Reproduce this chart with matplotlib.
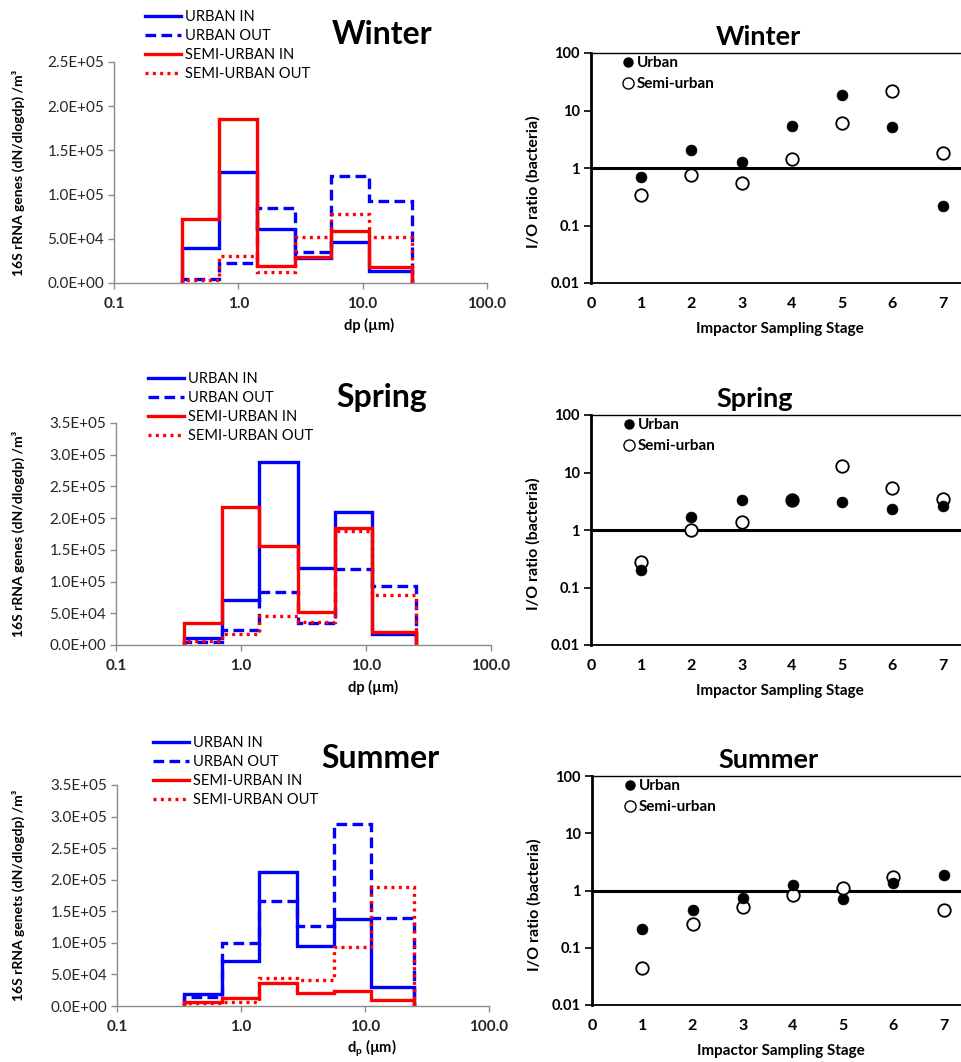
import matplotlib
matplotlib.use("Agg")
import matplotlib.pyplot as plt
from matplotlib.lines import Line2D
from matplotlib.ticker import FuncFormatter, FixedLocator, NullLocator

plt.rcParams['font.family'] = ['Lato', 'DejaVu Sans']
plt.rcParams['mathtext.fontset'] = 'custom'
plt.rcParams['mathtext.rm'] = 'Lato'

# ---------------- data ----------------
seasons = ["Winter", "Spring", "Summer"]
edges = [0.35, 0.70, 1.40, 2.85, 5.6, 11.2, 25.0]   # particle size bin edges (µm)

series_labels = ["URBAN IN", "URBAN OUT", "SEMI-URBAN IN", "SEMI-URBAN OUT"]

winter_urban_in = [40000, 126000, 61000, 28000, 46000, 14000]
winter_urban_out = [4000, 22500, 84600, 35000, 121000, 93000]
winter_semi_in = [72500, 186000, 19000, 29000, 59000, 17700]
winter_semi_out = [3000, 30000, 13000, 51500, 78000, 51500]

spring_urban_in = [10500, 71000, 288000, 122000, 210000, 18000]
spring_urban_out = [4000, 24000, 84000, 34000, 120000, 93000]
spring_semi_in = [35000, 218000, 156000, 52000, 184000, 21000]
spring_semi_out = [6000, 17000, 45000, 37000, 180000, 79000]

summer_urban_in = [18500, 72000, 213000, 95000, 137000, 30000]
summer_urban_out = [14000, 99000, 166000, 127000, 289000, 140000]
summer_semi_in = [7000, 12000, 36500, 21000, 24000, 9000]
summer_semi_out = [4000, 7000, 44000, 41000, 93000, 189000]

stages = [1, 2, 3, 4, 5, 6, 7]
winter_io_urban = [0.71, 2.05, 1.27, 5.45, 18.4, 5.2, 0.22]
winter_io_semi = [0.34, 0.755, 0.556, 1.41, 6.1, 21.8, 1.82]
spring_io_urban = [0.20, 1.71, 3.3, 3.3, 3.03, 2.35, 2.65]
spring_io_semi = [0.274, 1.0, 1.40, 3.3, 12.8, 5.4, 3.4]
summer_io_urban = [0.215, 0.46, 0.735, 1.27, 0.716, 1.36, 1.87]
summer_io_semi = [0.0446, 0.256, 0.51, 0.84, 1.10, 1.71, 0.46]

size_ymax = [2.5e5, 3.5e5, 3.5e5]
ylabels_left = ["16S rRNA genes (dN/dlogdp) /m\u00b3",
                "16S rRNA genes (dN/dlogdp) /m\u00b3",
                "16S rRNA genets (dN/dlogdp) /m\u00b3"]
xlabels_left = ["dp (\u00b5m)", "dp (\u00b5m)", "d$_\\mathregular{p}$ (\u00b5m)"]

size_data = [
    [winter_urban_in, winter_urban_out, winter_semi_in, winter_semi_out],
    [spring_urban_in, spring_urban_out, spring_semi_in, spring_semi_out],
    [summer_urban_in, summer_urban_out, summer_semi_in, summer_semi_out],
]
io_data = [
    (winter_io_urban, winter_io_semi),
    (spring_io_urban, spring_io_semi),
    (summer_io_urban, summer_io_semi),
]

# ---------------- layout ----------------
W, H = 962, 1062
fig = plt.figure(figsize=(W / 100, H / 100), dpi=100)


def pos(x0, y0, x1, y1):
    return [x0 / W, 1 - y1 / H, (x1 - x0) / W, (y1 - y0) / H]


left_boxes = [(114, 62, 487, 283), (116, 423, 491, 645), (117, 785, 489, 1006)]
right_boxes = [(591, 53, 993, 283), (591, 415, 993, 645), (592, 776, 994, 1005)]
left_titles = [(382, 35), (382, 398), (380, 758)]
right_titles = [(758, 37), (755, 399), (768, 760)]
left_leg = [(145, 10), (148, 372), (153, 736)]
right_leg = [(622, 56), (623, 418), (624, 779)]

styles = [
    dict(color="#0000ff", linestyle="-"),
    dict(color="#0000ff", linestyle=(0, (3.2, 1.6))),
    dict(color="#ff0000", linestyle="-"),
    dict(color="#ff0000", linestyle=(0, (0.9, 1.3))),
]
LW = 2.4
grey = "#8c8c8c"

for i in range(3):
    # ---------- size distribution ----------
    ax = fig.add_axes(pos(*left_boxes[i]))
    for vals, st in zip(size_data[i], styles):
        ax.stairs(vals, edges, baseline=0, fill=False, linewidth=LW, **st)
    ax.set_xscale("log")
    ax.set_xlim(0.1, 100)
    ax.set_ylim(0, size_ymax[i])
    ax.xaxis.set_major_locator(FixedLocator([0.1, 1, 10, 100]))
    ax.xaxis.set_minor_locator(NullLocator())
    ax.xaxis.set_major_formatter(FuncFormatter(lambda v, p: f"{v:.1f}"))
    ax.yaxis.set_major_locator(FixedLocator([k * 5e4 for k in range(int(size_ymax[i] / 5e4) + 1)]))
    ax.yaxis.set_major_formatter(FuncFormatter(lambda v, p: f"{v:.1E}"))
    for s in ["top", "right"]:
        ax.spines[s].set_visible(False)
    for s in ["left", "bottom"]:
        ax.spines[s].set_color(grey)
        ax.spines[s].set_linewidth(1.0)
    ax.tick_params(axis="both", direction="out", length=4, width=1.0, color=grey,
                   labelcolor="#262626")
    ax.tick_params(axis="y", labelsize=11, pad=3)
    ax.tick_params(axis="x", labelsize=11, pad=6)
    for t in ax.get_xticklabels():
        t.set_fontweight("bold")
    ax.set_ylabel(ylabels_left[i], fontsize=10, fontweight="bold", va="center")
    ax.yaxis.set_label_coords((18 - left_boxes[i][0]) / (left_boxes[i][2] - left_boxes[i][0]), 0.5)
    ax.set_xlabel(xlabels_left[i], fontsize=10.5, fontweight="bold", va="center")
    ax.xaxis.set_label_coords(0.685, -0.19)

    handles = [Line2D([], [], linewidth=LW, **st) for st in styles]
    lx, ly = left_leg[i]
    ax.legend(handles, series_labels, loc="upper left",
              bbox_to_anchor=(lx / W, 1 - ly / H), bbox_transform=fig.transFigure,
              frameon=False, fontsize=10.5, handlelength=2.5, handletextpad=0.25,
              labelspacing=0.34, borderpad=0, borderaxespad=0)

    tx, ty = left_titles[i]
    fig.text(tx / W, 1 - ty / H, seasons[i], fontsize=23, fontweight="bold",
             ha="center", va="center")

    # ---------- I/O ratio ----------
    ax2 = fig.add_axes(pos(*right_boxes[i]))
    urb, semi = io_data[i]
    ax2.axhline(1, color="black", linewidth=2.2, zorder=1)
    ax2.plot(stages, semi, linestyle="none", marker="o", markersize=9.0,
             markerfacecolor="white", markeredgecolor="black", markeredgewidth=1.3,
             label="Semi-urban", zorder=3)
    ax2.plot(stages, urb, linestyle="none", marker="o", markersize=7.8,
             markerfacecolor="black", markeredgecolor="black", markeredgewidth=0.5,
             label="Urban", zorder=4)
    ax2.set_yscale("log")
    ax2.set_ylim(0.01, 100)
    ax2.set_xlim(0, 8)
    ax2.yaxis.set_major_locator(FixedLocator([0.01, 0.1, 1, 10, 100]))
    ax2.yaxis.set_minor_locator(NullLocator())
    ax2.yaxis.set_major_formatter(FuncFormatter(lambda v, p: f"{v:g}"))
    ax2.xaxis.set_major_locator(FixedLocator([0, 1, 2, 3, 4, 5, 6, 7]))
    ax2.spines["left"].set_linewidth(2.0)
    ax2.spines["bottom"].set_linewidth(1.3)
    ax2.spines["top"].set_linewidth(1.0)
    ax2.spines["right"].set_visible(False)
    ax2.tick_params(axis="y", direction="out", length=5, width=1.2, labelsize=10.5, pad=3)
    ax2.tick_params(axis="x", direction="out", length=0, labelsize=11.5, pad=10)
    for t in ax2.get_yticklabels() + ax2.get_xticklabels():
        t.set_fontweight("bold")
    ax2.set_ylabel("I/O ratio (bacteria)", fontsize=11.5, fontweight="bold", va="center")
    ax2.yaxis.set_label_coords(-0.144, 0.44)
    ax2.set_xlabel("Impactor Sampling Stage", fontsize=11, fontweight="bold", va="center")
    ax2.xaxis.set_label_coords(0.47, -0.20)

    rx, ry = right_leg[i]
    leg_handles = [Line2D([], [], linestyle="none", marker="o", markersize=6.5,
                          markerfacecolor="black", markeredgecolor="black"),
                   Line2D([], [], linestyle="none", marker="o", markersize=8,
                          markerfacecolor="white", markeredgecolor="black",
                          markeredgewidth=1.0)]
    ax2.legend(leg_handles, ["Urban", "Semi-urban"], loc="upper left",
               bbox_to_anchor=(rx / W, 1 - ry / H), bbox_transform=fig.transFigure,
               frameon=False, prop=dict(size=11, weight="bold"), handlelength=0.8,
               handletextpad=0.15, labelspacing=0.45, borderpad=0, borderaxespad=0)

    tx, ty = right_titles[i]
    fig.text(tx / W, 1 - ty / H, seasons[i], fontsize=19.5, fontweight="bold",
             ha="center", va="center")

fig.savefig("out.png", dpi=100)
